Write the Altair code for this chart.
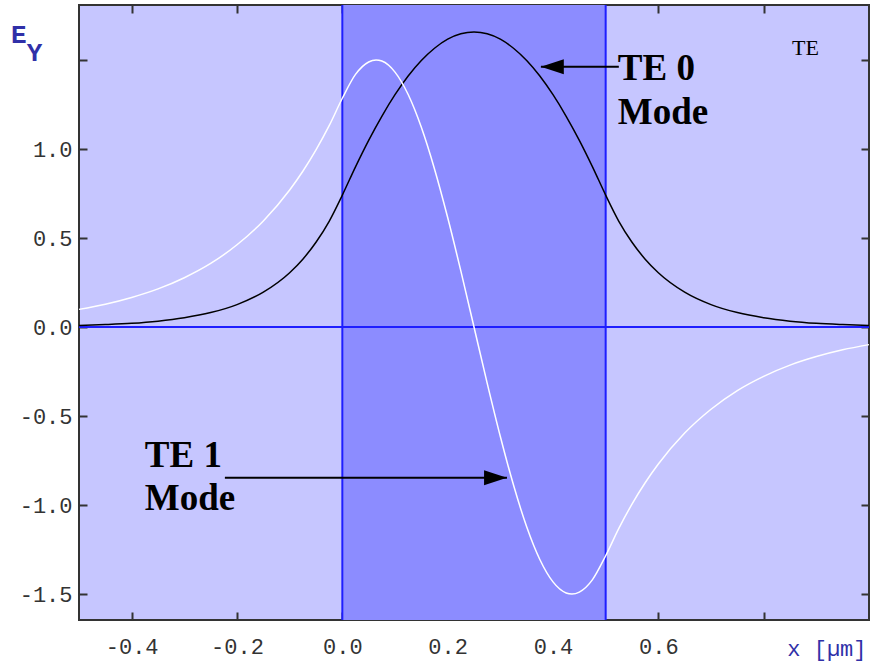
import altair as alt
import pandas as pd

# Transverse field profiles E_y(x) of the two guided TE modes of a 0.5 µm slab
x_te0 = [-0.5, -0.45, -0.4, -0.35, -0.3, -0.25, -0.2, -0.15, -0.1, -0.075, -0.05, -0.025,
         0.0, 0.025, 0.05, 0.075, 0.1, 0.125, 0.15, 0.175, 0.2, 0.225, 0.25, 0.275, 0.3,
         0.325, 0.35, 0.375, 0.4, 0.425, 0.45, 0.475, 0.5, 0.525, 0.55, 0.575, 0.6, 0.65,
         0.7, 0.75, 0.8, 0.85, 0.9, 0.95, 1.0]
ey_te0 = [0.009, 0.014, 0.021, 0.033, 0.052, 0.081, 0.126, 0.196, 0.305, 0.381, 0.476, 0.594,
          0.741, 0.900, 1.049, 1.184, 1.305, 1.410, 1.497, 1.566, 1.617, 1.647, 1.657, 1.647,
          1.617, 1.566, 1.497, 1.410, 1.305, 1.184, 1.049, 0.900, 0.741, 0.594, 0.476, 0.381,
          0.305, 0.196, 0.126, 0.081, 0.052, 0.033, 0.021, 0.014, 0.009]

x_te1 = [-0.5, -0.45, -0.4, -0.35, -0.3, -0.25, -0.2, -0.15, -0.1, -0.075, -0.05, -0.025,
         0.0, 0.025, 0.05, 0.064, 0.075, 0.1, 0.125, 0.15, 0.175, 0.2, 0.225, 0.25, 0.275,
         0.3, 0.325, 0.35, 0.375, 0.4, 0.425, 0.436, 0.45, 0.475, 0.5, 0.525, 0.55, 0.575,
         0.6, 0.65, 0.7, 0.75, 0.8, 0.85, 0.9, 0.95, 1.0]
ey_te1 = [0.099, 0.128, 0.166, 0.214, 0.277, 0.357, 0.462, 0.596, 0.770, 0.875, 0.995, 1.131,
          1.285, 1.419, 1.489, 1.500, 1.494, 1.432, 1.306, 1.122, 0.888, 0.615, 0.315, 0.0,
          -0.315, -0.615, -0.888, -1.122, -1.306, -1.432, -1.494, -1.500, -1.489, -1.419,
          -1.285, -1.131, -0.995, -0.875, -0.770, -0.596, -0.462, -0.357, -0.277, -0.214,
          -0.166, -0.128, -0.099]

# Core boundaries (µm)
core_edges = [0.0, 0.5]

# Axis ticks
x_ticks = [-0.4, -0.2, 0.0, 0.2, 0.4, 0.6, 0.8]
y_ticks = [-1.5, -1.0, -0.5, 0.0, 0.5, 1.0, 1.5]

# Annotations
mode_labels = ["TE 0", "Mode", "TE 1", "Mode"]
mode_label_x = [0.523, 0.523, -0.375, -0.375]
mode_label_y = [1.388, 1.140, -0.787, -1.028]

arrow_x_from = [0.525, -0.223]
arrow_x_to = [0.377, 0.3126]
arrow_y = [1.462, -0.847]
arrow_dir = ["left", "right"]

CLAD = "#C6C6FF"
CORE = "#8C8CFF"
BLUE = "#1E1EFF"
INK = "#333333"
NAVY = "#3030A8"
MONO = "Liberation Mono"
SERIF = "Liberation Serif"

xs = alt.Scale(domain=[-0.5, 1.0], nice=False, zero=False)
ys = alt.Scale(domain=[-1.646, 1.809], nice=False, zero=False)

te0 = pd.DataFrame({"x": x_te0, "ey": ey_te0})
te1 = pd.DataFrame({"x": x_te1, "ey": ey_te1})
core = pd.DataFrame({"x0": [core_edges[0]], "x1": [core_edges[1]]})
edges = pd.DataFrame({"x": core_edges})
zero = pd.DataFrame({"y": [0.0]})
labels = pd.DataFrame({"x": mode_label_x, "y": mode_label_y, "t": mode_labels})
arrows = pd.DataFrame({"x0": arrow_x_from, "x1": arrow_x_to, "y": arrow_y, "d": arrow_dir})

tick_style = dict(domain=False, grid=False, tickSize=8, tickWidth=2, tickColor=INK, offset=-8,
                  labelFont=MONO, labelFontSize=22, labelColor=INK)

fmt = "(datum.value < 0 ? '-' : '') + format(abs(datum.value), '.1f')"

x_bottom = alt.Axis(values=x_ticks, orient="bottom", labelPadding=16, labelFlush=False,
                    labelExpr=f"datum.value > 0.7 ? '' : {fmt}",
                    title="x [µm]", titleFont=MONO, titleFontSize=22, titleFontWeight="normal",
                    titleColor=NAVY, titleAlign="right", titleBaseline="alphabetic",
                    titleX=787, titleY=43, **tick_style)
y_left = alt.Axis(values=y_ticks, orient="left", labelPadding=7, labelFlush=False,
                  labelExpr=f"datum.value > 1.2 ? '' : {fmt}", title=None, **tick_style)
x_top = alt.Axis(values=x_ticks, orient="top", labels=False, title=None, **tick_style)
y_right = alt.Axis(values=y_ticks, orient="right", labels=False, title=None, **tick_style)

core_rect = alt.Chart(core).mark_rect(color=CORE).encode(
    x=alt.X("x0:Q", scale=xs, axis=None), x2="x1:Q")

edge_rules = alt.Chart(edges).mark_rule(color=BLUE, strokeWidth=2).encode(
    x=alt.X("x:Q", scale=xs, axis=None))
zero_rule = alt.Chart(zero).mark_rule(color=BLUE, strokeWidth=2).encode(
    y=alt.Y("y:Q", scale=ys, axis=None))

te0_line = alt.Chart(te0).mark_line(color="black", strokeWidth=1.5, interpolate="monotone").encode(
    x=alt.X("x:Q", scale=xs, axis=x_bottom), y=alt.Y("ey:Q", scale=ys, axis=y_left))
te1_line = alt.Chart(te1).mark_line(color="white", strokeWidth=1.5, interpolate="monotone").encode(
    x=alt.X("x:Q", scale=xs, axis=x_top), y=alt.Y("ey:Q", scale=ys, axis=y_right))

arrow_shafts = alt.Chart(arrows).mark_rule(color="black", strokeWidth=2).encode(
    x=alt.X("x0:Q", scale=xs, axis=None), x2="x1:Q", y=alt.Y("y:Q", scale=ys, axis=None))
head_left = alt.Chart(arrows).transform_filter("datum.d == 'left'").mark_point(
    shape="M0,0L1,-0.33L1,0.33Z", filled=True, color="black", opacity=1, size=2100).encode(
    x=alt.X("x1:Q", scale=xs, axis=None), y=alt.Y("y:Q", scale=ys, axis=None))
head_right = alt.Chart(arrows).transform_filter("datum.d == 'right'").mark_point(
    shape="M0,0L-1,-0.33L-1,0.33Z", filled=True, color="black", opacity=1, size=2100).encode(
    x=alt.X("x1:Q", scale=xs, axis=None), y=alt.Y("y:Q", scale=ys, axis=None))

mode_text = alt.Chart(labels).mark_text(
    align="left", baseline="alphabetic", font=SERIF, fontWeight="bold", fontSize=37,
    color="black").encode(
    x=alt.X("x:Q", scale=xs, axis=None), y=alt.Y("y:Q", scale=ys, axis=None), text="t:N")

te_tag = alt.Chart(pd.DataFrame({"x": [0.854], "y": [1.528], "t": ["TE"]})).mark_text(
    align="left", baseline="alphabetic", font=SERIF, fontSize=22, color="black").encode(
    x=alt.X("x:Q", scale=xs, axis=None), y=alt.Y("y:Q", scale=ys, axis=None), text="t:N")

ey_label = alt.Chart(pd.DataFrame({"x": [-0.629, -0.599], "y": [1.596, 1.494],
                                   "t": ["E", "Y"]})).mark_text(
    align="left", baseline="alphabetic", font=MONO, fontWeight="bold", fontSize=26,
    color=NAVY).encode(
    x=alt.X("x:Q", scale=xs, axis=None), y=alt.Y("y:Q", scale=ys, axis=None), text="t:N")

chart = alt.layer(
    core_rect, edge_rules, zero_rule, te0_line, te1_line,
    arrow_shafts, head_left, head_right, mode_text, te_tag, ey_label,
).resolve_axis(x="independent", y="independent").properties(
    width=790, height=615,
    autosize=alt.AutoSizeParams(type="none"),
    padding={"left": 79, "top": 5, "right": 1, "bottom": 45},
    background="white",
).configure_view(fill=CLAD, stroke=INK, strokeWidth=2)

chart.save("out.html", embed_options={"renderer": "svg", "actions": False})
